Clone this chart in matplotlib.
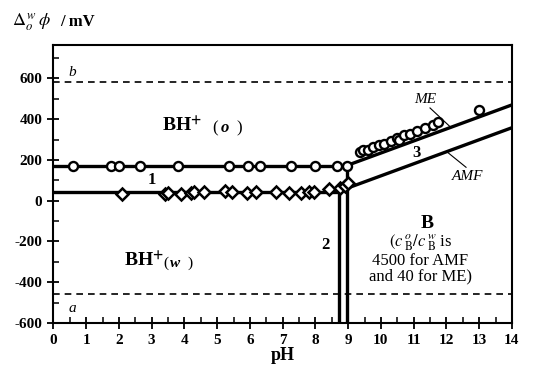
import numpy as np
import matplotlib.pyplot as plt
from matplotlib.ticker import MultipleLocator

plt.rcParams['font.family'] = ['Liberation Serif', 'DejaVu Serif']
plt.rcParams['mathtext.fontset'] = 'stix'
plt.rcParams['axes.unicode_minus'] = False

# circles: measured points (pH, mV)
circle_ph = [0.6, 1.75, 2.0, 2.65, 3.8, 5.35, 5.95, 6.3, 7.25, 8.0, 8.65, 8.95,
             9.35, 9.45, 9.6, 9.75, 9.95, 10.1, 10.3, 10.5, 10.55, 10.7, 10.9,
             11.1, 11.35, 11.6, 11.75, 13.0]
circle_mv = [170, 172, 168, 172, 172, 168, 172, 172, 168, 172, 172, 168,
             240, 250, 250, 265, 275, 280, 295, 310, 300, 320, 325,
             340, 355, 370, 385, 445]

# diamonds: measured points (pH, mV)
diamond_ph = [2.1, 3.4, 3.5, 3.9, 4.2, 4.3, 4.6, 5.25, 5.45, 5.9, 6.2, 6.8,
              7.2, 7.55, 7.8, 7.95, 8.4, 8.75, 8.9, 9.0]
diamond_mv = [35, 32, 38, 32, 40, 45, 45, 48, 42, 40, 45, 45,
              38, 40, 45, 45, 55, 60, 72, 85]

# boundary lines (pH, mV)
line1_upper = ([0, 8.95], [172, 172])
line1_lower = ([0, 8.72], [45, 45])
line2_left = ([8.72, 8.72], [-600, 45])
line2_right = ([8.95, 8.95], [-600, 172])
line3_me = ([8.95, 14], [172, 470])
line3_amf = ([8.95, 14], [60, 358])

level_b = 580
level_a = -460

fig = plt.figure(figsize=(5.51, 3.70), dpi=100)
ax = fig.add_axes([0.097, 0.127, 0.832, 0.752])

for xs, ys in [line1_upper, line1_lower, line2_left, line2_right, line3_me, line3_amf]:
    ax.plot(xs, ys, color='black', lw=2.4, solid_capstyle='butt', zorder=2)

ax.axhline(level_b, color='black', lw=1.2, ls=(0, (4, 3)), zorder=1)
ax.axhline(level_a, color='black', lw=1.2, ls=(0, (4, 3)), zorder=1)

ax.plot(circle_ph, circle_mv, 'o', ms=6.5, mfc='white', mec='black', mew=1.7, zorder=3)
ax.plot(diamond_ph, diamond_mv, 'D', ms=6.5, mfc='white', mec='black', mew=1.8, zorder=3)

ax.set_xlim(0, 14)
ax.set_ylim(-600, 765)
ax.xaxis.set_major_locator(MultipleLocator(1))
ax.xaxis.set_minor_locator(MultipleLocator(0.5))
ax.yaxis.set_major_locator(MultipleLocator(200))
ax.yaxis.set_minor_locator(MultipleLocator(100))
ax.tick_params(which='major', direction='inout', length=9, width=1.3, labelsize=11)
ax.tick_params(which='minor', direction='in', length=4, width=1.1)
for lab in ax.get_xticklabels() + ax.get_yticklabels():
    lab.set_fontweight('bold')
for s in ax.spines.values():
    s.set_linewidth(1.5)

ax.set_xlabel('pH', fontsize=13, fontweight='bold', labelpad=0)

fig.text(0.022, 0.94, r'$\Delta_o^{\,w}\,\phi$', fontsize=13, va='center')
fig.text(0.109, 0.94, '/ mV', fontsize=12, fontweight='bold', va='center')

ax.text(0.45, 630, 'b', style='italic', fontsize=11, va='center')
ax.text(0.45, -530, 'a', style='italic', fontsize=11, va='center')
ax.text(3.3, 335, r'BH$^{\mathbf{+}}$', fontsize=14, fontweight='bold')
ax.text(4.85, 335, '(', fontsize=12)
ax.text(5.1, 335, 'o', style='italic', fontweight='bold', fontsize=12)
ax.text(5.6, 335, ')', fontsize=12)
ax.text(2.15, -325, r'BH$^{\mathbf{+}}$', fontsize=14, fontweight='bold')
ax.text(3.35, -325, '(', fontsize=11)
ax.text(3.55, -325, 'w', style='italic', fontweight='bold', fontsize=11)
ax.text(4.1, -325, ')', fontsize=11)
ax.text(3.0, 100, '1', fontsize=12, fontweight='bold', ha='center', va='center')
ax.text(8.3, -215, '2', fontsize=12, fontweight='bold', ha='center', va='center')
ax.text(11.1, 235, '3', fontsize=12, fontweight='bold', ha='center', va='center')

ax.text(11.35, 495, 'ME', style='italic', fontsize=11, ha='center', va='center')
ax.plot([11.5, 12.1], [455, 365], color='black', lw=0.8)
ax.text(12.65, 118, 'AMF', style='italic', fontsize=11, ha='center', va='center')
ax.plot([12.0, 12.6], [242, 164], color='black', lw=0.8)

ax.text(11.4, -110, 'B', fontsize=14, fontweight='bold', ha='center', va='center')
ax.text(11.2, -410,
        '$(c\\,^{o}_{\\mathrm{B}}/c\\,^{w}_{\\mathrm{B}}$ is\n4500 for AMF\nand 40 for ME)',
        fontsize=12, ha='center', va='bottom', linespacing=0.95)

fig.savefig('out.png', dpi=100)
